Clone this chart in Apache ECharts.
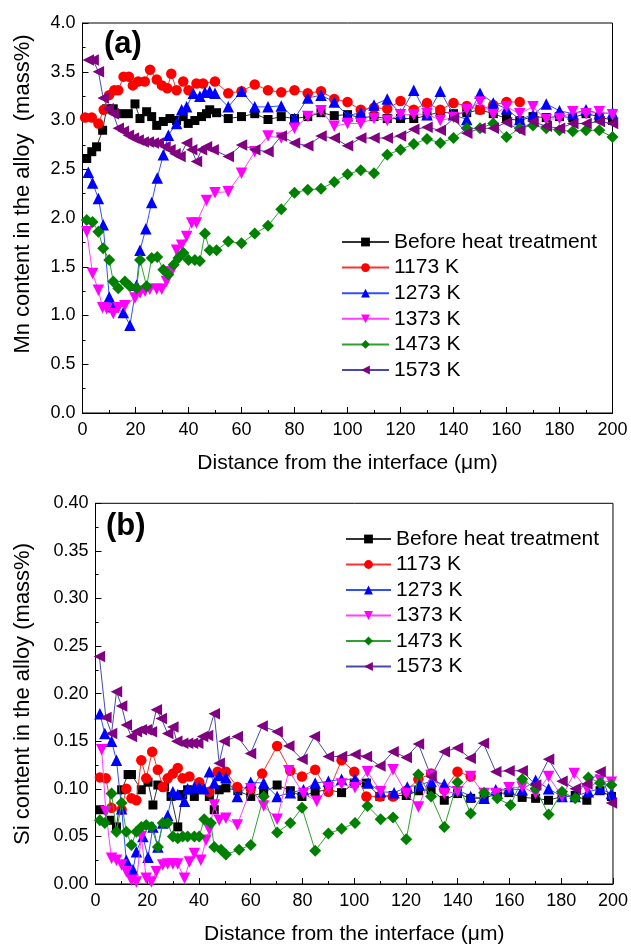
<!DOCTYPE html>
<html>
<head>
<meta charset="utf-8">
<script src="https://cdn.jsdelivr.net/npm/echarts@6/dist/echarts.min.js"></script>
<style>
html,body{margin:0;padding:0;background:#fff;}
#c{width:631px;height:946px;}
</style>
</head>
<body>
<div id="c"></div>
<script>
// ---------- legend / series names ----------
const seriesNames = ['Before heat treatment', '1173 K', '1273 K', '1373 K', '1473 K', '1573 K'];
const xTickLabels = [0, 20, 40, 60, 80, 100, 120, 140, 160, 180, 200];

// ---------- (a) Mn content ----------
const mnBeforeX = [1.6,3.5,5.3,7.6,9.1,11.6,14.1,17.3,19.8,21.7,24.2,26.1,28,30.5,33,35.5,38,39.9,42.4,44.9,46.8,48,50.6,55,60,65,70,75,80,85,90,95,100,105,110,115,120,125,130,135,140,145,150,155,160,165,170,175,180,185,190,195,200];
const mnBeforeY = [2.61,2.68,2.73,2.90,3.12,3.12,3.07,3.07,3.17,3.02,3.09,3.04,2.95,2.99,3.02,3.00,3.04,2.97,3.00,3.04,3.07,3.11,3.08,3.02,3.04,3.07,3.01,3.04,3.02,3.04,3.08,3.05,3.06,3.03,3.04,3.02,3.02,3.02,3.05,3.09,3.07,3.08,3.11,3.07,3.02,3.00,3.04,3.03,3.04,3.03,3.07,3.04,3.00];

const mn1173X = [1,3.5,6,8,10,12,13.5,15.5,17.5,19,21,23.5,25.5,28,30,32,33.5,35.5,38,40,43,45.5,50,55,60,65,70,75,80,85,90,95,100,105,110,115,120,125,130,135,140,145,150,155,160,165];
const mn1173Y = [3.03,3.03,2.97,3.11,3.26,3.31,3.31,3.45,3.45,3.36,3.40,3.40,3.52,3.42,3.36,3.33,3.48,3.31,3.40,3.31,3.38,3.38,3.40,3.28,3.30,3.37,3.31,3.29,3.31,3.28,3.30,3.22,3.19,3.11,3.13,3.12,3.20,3.11,3.18,3.11,3.18,3.15,3.11,3.16,3.19,3.19];

const mn1273X = [2.2,3.8,6,7.8,10.1,11.6,15.4,17.9,20.4,21.7,23.9,26.1,28.2,30.5,32.4,35.5,37.4,39.3,41.8,44.3,46.2,48,50,55,60,65,70,75,80,85,90,95,100,105,110,115,120,125,130,135,140,145,150,155,160,165,170,175,180,185,190,195,200];
const mn1273Y = [2.47,2.36,2.20,1.93,1.19,1.09,1.03,0.90,1.31,1.67,1.89,2.16,2.41,2.65,2.85,2.97,3.11,3.14,3.28,3.25,3.29,3.30,3.28,3.14,3.30,3.14,3.14,3.15,3.02,3.23,3.26,3.19,3.05,3.08,3.16,3.22,3.07,3.31,3.06,3.30,3.06,3.01,3.28,3.18,3.12,3.01,3.06,3.17,3.10,3.07,3.11,3.07,3.08];

const mn1373X = [1.6,3.8,6,7.6,9.1,11.6,13.5,16,19.8,21.7,23.6,25.4,28,29.9,31.7,33.6,35.5,37.4,39.3,41.2,43,46.8,50,55,60,65,70,75,80,85,90,95,100,105,110,115,120,125,130,135,140,145,150,155,160,165,170,175,180,185,190,195,200];
const mn1373Y = [1.86,1.43,1.26,1.08,1.07,1.02,1.08,1.10,1.18,1.23,1.25,1.27,1.27,1.27,1.35,1.45,1.67,1.72,1.81,1.95,1.95,2.18,2.26,2.27,2.46,2.68,2.84,2.82,2.92,3.04,3.10,2.94,2.97,2.97,3.02,3.00,3.06,3.06,3.07,3.00,3.03,3.11,3.19,3.06,3.14,3.07,3.14,3.01,3.02,3.09,3.07,3.09,3.06];

const mn1473X = [1.6,3.8,6,7.8,10.1,11.6,13.5,16,17.9,20.4,21.7,24.2,26.1,28.2,30.5,32.4,34.4,36.2,38.1,40,42.4,44.3,46.2,48,50.6,55,60,65,70,75,80,85,90,95,100,105,110,115,120,125,130,135,140,145,150,155,160,165,170,175,180,185,190,195,200];
const mn1473Y = [1.98,1.96,1.86,1.69,1.57,1.35,1.28,1.35,1.30,1.28,1.57,1.30,1.59,1.60,1.47,1.42,1.52,1.59,1.64,1.57,1.57,1.56,1.84,1.67,1.67,1.76,1.74,1.84,1.92,2.09,2.26,2.29,2.30,2.37,2.45,2.49,2.46,2.65,2.70,2.76,2.81,2.77,2.82,2.92,2.92,2.97,2.83,2.92,2.95,2.92,2.90,2.89,2.90,2.90,2.83];

const mn1573X = [2.2,4,6,7.8,9.7,11.6,13.5,15.4,17.3,19.2,21,22.9,24.8,26.7,28.6,31.1,33,34.9,36.8,39.3,41.2,43,44.9,46.8,49.3,55,60,65,70,75,80,85,90,95,100,105,110,115,120,125,130,135,140,145,150,155,160,165,170,175,180,185,190,195,200];
const mn1573Y = [3.62,3.62,3.50,3.23,3.12,3.07,2.92,2.89,2.85,2.82,2.80,2.78,2.78,2.77,2.77,2.73,2.70,2.66,2.63,2.77,2.70,2.58,2.70,2.73,2.70,2.63,2.75,2.70,2.68,2.84,2.77,2.74,2.84,2.82,2.74,2.82,2.82,2.82,2.84,2.91,2.93,2.90,3.02,2.87,2.92,2.92,2.98,2.90,2.99,2.94,2.92,2.97,2.97,2.99,2.97];

// ---------- (b) Si content ----------
const siBeforeX = [1.7,5.6,8.1,10.1,12.6,13.9,17.7,20.3,22.2,24.1,26.7,29.2,31.8,33.7,35.6,38.2,40.1,44,45.9,47.8,50.4,55,60,65,70.2,75.3,79.8,84.9,90,95.1,100,104.7,109.9,115,120.1,124.8,129.7,134.8,139.9,145,150.2,155.3,159.8,164.9,170.1,175.1,180.3,185.4,189.9,195,199.4];
const siBeforeY = [0.078,0.067,0.060,0.099,0.115,0.115,0.099,0.107,0.083,0.104,0.102,0.092,0.060,0.094,0.099,0.092,0.104,0.092,0.078,0.099,0.101,0.098,0.092,0.096,0.104,0.098,0.092,0.097,0.099,0.096,0.106,0.106,0.092,0.093,0.093,0.098,0.099,0.088,0.095,0.090,0.090,0.095,0.096,0.091,0.090,0.088,0.092,0.093,0.088,0.098,0.092];

const si1173X = [1.7,4.0,6.2,10.1,11.9,13.9,15.8,17.7,19.6,21.9,24.1,26,27.9,29.9,31.8,33.7,36.3,40.1,44,47.2,50.4,54.8,60,64.4,70.2,75.3,79.8,84.9,90,95.1,100,104.7,109.9,115,120.1,124.8,129.7,134.8,139.9,145];
const si1173Y = [0.112,0.111,0.080,0.078,0.100,0.090,0.088,0.130,0.111,0.139,0.120,0.102,0.111,0.116,0.122,0.111,0.113,0.107,0.097,0.118,0.118,0.102,0.100,0.116,0.145,0.119,0.113,0.120,0.097,0.130,0.118,0.092,0.092,0.092,0.098,0.110,0.116,0.099,0.118,0.113];

const si1273X = [1.7,3.6,6.2,8.1,10.1,11.9,14.5,15.8,18.3,20.3,22.2,24.1,26,27.9,29.9,31.8,34.4,35.6,38.2,40.1,42,44,45.9,47.8,50.4,54.8,60,65,70.2,75.3,80.4,84.9,90,95.1,100.3,105.4,110.2,115.4,120.5,125.2,129.7,134.8,139.9,145,150.2,154.7,159.8,164.9,170.1,175.1,180.3,185.4,190.5,195,199.4];
const si1273Y = [0.179,0.158,0.150,0.130,0.079,0.025,0.015,0.034,0.050,0.028,0.060,0.039,0.064,0.072,0.097,0.094,0.087,0.100,0.102,0.102,0.100,0.118,0.106,0.114,0.112,0.092,0.107,0.106,0.092,0.096,0.099,0.106,0.108,0.110,0.110,0.106,0.097,0.096,0.102,0.104,0.108,0.105,0.099,0.092,0.090,0.099,0.100,0.099,0.109,0.100,0.092,0.092,0.097,0.100,0.095];

const si1373X = [2.4,4.0,6.2,8.1,10.1,11.9,13.9,15.8,17.7,19.6,21.6,23.5,26,27.9,29.9,31.8,34.4,36.3,38.2,40.7,42.7,44,45.9,47.8,50.4,54.8,60,65,70.2,74.7,80.4,85.5,90,95.1,100.3,105.1,110.2,115,120.1,124.8,129.7,134.8,139.9,145,150.2,154.7,159.8,164.9,170.1,175.1,180.3,185,189.9,195,199.4];
const si1373Y = [0.141,0.076,0.027,0.025,0.020,0.013,0.004,0.002,0.050,0.006,0.002,0.013,0.020,0.021,0.021,0.021,0.006,0.023,0.032,0.025,0.046,0.057,0.083,0.067,0.069,0.062,0.100,0.082,0.068,0.119,0.095,0.087,0.101,0.105,0.101,0.118,0.097,0.120,0.095,0.081,0.114,0.095,0.097,0.113,0.095,0.095,0.101,0.102,0.095,0.113,0.092,0.116,0.100,0.109,0.107];

const si1473X = [1.7,3.6,6.2,8.1,10.1,11.9,13.9,15.8,17.7,19.6,21.6,24.1,26,27.9,29.9,31.8,33.7,35.6,38.2,40.1,42,44.6,45.9,48.5,50.4,55.5,60,65,70.2,75.3,79.8,84.9,90,95.1,100.3,105.1,110.2,115,120.1,124.8,129.7,134.8,139.9,145,150.2,155.3,160.4,164.9,170.1,175.1,180.3,185.4,190.5,195,199.4];
const si1473Y = [0.067,0.064,0.095,0.055,0.085,0.055,0.041,0.055,0.060,0.062,0.060,0.039,0.064,0.064,0.050,0.048,0.050,0.050,0.050,0.050,0.068,0.064,0.039,0.036,0.031,0.036,0.041,0.092,0.054,0.064,0.080,0.035,0.053,0.058,0.064,0.082,0.068,0.070,0.047,0.115,0.092,0.060,0.107,0.074,0.096,0.090,0.083,0.110,0.100,0.073,0.097,0.090,0.112,0.106,0.104];

const si1573X = [1.5,4.0,6.2,8.1,10.1,11.9,13.9,15.8,17.7,19.6,21.6,23.5,25.4,27.9,29.9,31.4,33.7,35.6,37.5,39.5,41.4,43.3,45.9,47.8,49.7,54.8,59.9,64.4,70.2,74.7,79.8,84.6,90,95.1,100.3,104.7,109.9,115,120.1,124.8,129.7,134.8,139.9,144.8,149.9,154.7,159.8,164.9,170.1,175.1,180.3,185.4,189.9,195,199.4];
const si1573Y = [0.239,0.175,0.158,0.202,0.187,0.167,0.155,0.160,0.162,0.162,0.160,0.183,0.174,0.158,0.165,0.150,0.148,0.148,0.148,0.148,0.155,0.156,0.179,0.127,0.150,0.155,0.137,0.166,0.160,0.145,0.131,0.155,0.134,0.134,0.136,0.134,0.124,0.139,0.133,0.147,0.113,0.139,0.143,0.132,0.148,0.118,0.119,0.119,0.104,0.131,0.108,0.100,0.105,0.118,0.085];

// ---------- styles ----------
const FONT = '"Liberation Sans", Arial, Helvetica, sans-serif';
const styles = [
  {symbol: 'rect', size: 9, color: '#000000', line: '#333333', rot: 0},
  {symbol: 'circle', size: 10.5, color: '#ff0000', line: '#ff3030', rot: 0},
  {symbol: 'triangle', size: 11.5, color: '#0000ff', line: '#3050ff', rot: 0},
  {symbol: 'triangle', size: 11.5, color: '#ff00ff', line: '#ff40ff', rot: 180},
  {symbol: 'diamond', size: 12, color: '#008000', line: '#30a030', rot: 0},
  {symbol: 'triangle', size: 11.5, color: '#800080', line: '#4848b0', rot: 90}
];

const mnSets = [[mnBeforeX, mnBeforeY],[mn1173X, mn1173Y],[mn1273X, mn1273Y],[mn1373X, mn1373Y],[mn1473X, mn1473Y],[mn1573X, mn1573Y]];
const siSets = [[siBeforeX, siBeforeY],[si1173X, si1173Y],[si1273X, si1273Y],[si1373X, si1373Y],[si1473X, si1473Y],[si1573X, si1573Y]];

function mk(i, set, idx) {
  const s = styles[i];
  return {
    type: 'line', name: seriesNames[i], xAxisIndex: idx, yAxisIndex: idx,
    data: set[0].map((x, k) => [x, set[1][k]]),
    symbol: s.symbol, symbolSize: s.size, symbolRotate: s.rot,
    itemStyle: {color: s.color, borderWidth: 0},
    lineStyle: {color: s.line, width: 1},
    emphasis: {disabled: true},
    animation: false, clip: false, z: 2 + i
  };
}

function xAxis(idx) {
  return {
    gridIndex: idx, type: 'value', min: 0, max: 200, interval: 20,
    axisLine: {show: true, onZero: false, lineStyle: {color: '#000', width: 1}},
    axisTick: {show: true, inside: true, length: 6, lineStyle: {color: '#000', width: 1}},
    minorTick: {show: true, splitNumber: 2, length: 3, lineStyle: {color: '#000', width: 1}},
    splitLine: {show: false}, minorSplitLine: {show: false},
    axisLabel: {color: '#000', fontSize: 18, fontFamily: FONT, margin: 8,
      formatter: v => (xTickLabels.indexOf(v) >= 0 ? String(v) : '')},
    name: 'Distance from the interface (\u03bcm)', nameLocation: 'middle', nameGap: 40,
    nameTextStyle: {color: '#000', fontSize: 21, fontFamily: FONT}
  };
}
function yAxis(idx, max, interval, dec) {
  return {
    gridIndex: idx, type: 'value', min: 0, max: max, interval: interval,
    axisLine: {show: true, lineStyle: {color: '#000', width: 1}},
    axisTick: {show: true, inside: true, length: 6, lineStyle: {color: '#000', width: 1}},
    minorTick: {show: true, splitNumber: 2, length: 3, lineStyle: {color: '#000', width: 1}},
    splitLine: {show: false}, minorSplitLine: {show: false},
    axisLabel: {color: '#000', fontSize: 18, fontFamily: FONT, margin: 7,
      formatter: v => v.toFixed(dec)}
  };
}
function legend(idx, left, top, gap, itemWidth) {
  return {
    show: true, orient: 'vertical', left: left, top: top,
    itemWidth: itemWidth, itemHeight: 11, itemGap: gap,
    data: seriesNames, selectedMode: false,
    textStyle: {color: '#000', fontSize: 21, fontFamily: FONT, lineHeight: 21},
    symbolRotate: 'inherit'
  };
}

const chart = echarts.init(document.getElementById('c'), null, {renderer: 'canvas'});
const series = [];
mnSets.forEach((s, i) => series.push(mk(i, s, 0)));
siSets.forEach((s, i) => series.push(mk(i, s, 1)));

chart.setOption({
  backgroundColor: '#fff',
  animation: false,
  grid: [
    {left: 82.5, top: 23, width: 530, height: 390, show: true, borderColor: '#000', borderWidth: 1, backgroundColor: 'transparent'},
    {left: 95.5, top: 503.3, width: 521, height: 380.7, show: true, borderColor: '#000', borderWidth: 1, backgroundColor: 'transparent'}
  ],
  xAxis: [xAxis(0), xAxis(1)],
  yAxis: [yAxis(0, 4, 0.5, 1), yAxis(1, 0.4, 0.05, 2)],
  legend: [legend(0, 336, 226.5, 4.6, 47), legend(1, 340, 523.5, 4.5, 45)],
  series: series,
  graphic: [
    {type: 'text', left: 104, top: 29, style: {text: '(a)', font: 'bold 31px ' + FONT, fill: '#000'}},
    {type: 'text', left: 106, top: 511, style: {text: '(b)', font: 'bold 31px ' + FONT, fill: '#000'}},
    {type: 'text', x: 23, y: 194, rotation: Math.PI / 2,
      style: {text: 'Mn content in the alloy  (mass%)', font: '22px ' + FONT, fill: '#000', align: 'center', verticalAlign: 'middle'}},
    {type: 'text', x: 23, y: 694, rotation: Math.PI / 2,
      style: {text: 'Si content in the alloy (mass%)', font: '22px ' + FONT, fill: '#000', align: 'center', verticalAlign: 'middle'}}
  ]
});
</script>
</body>
</html>
